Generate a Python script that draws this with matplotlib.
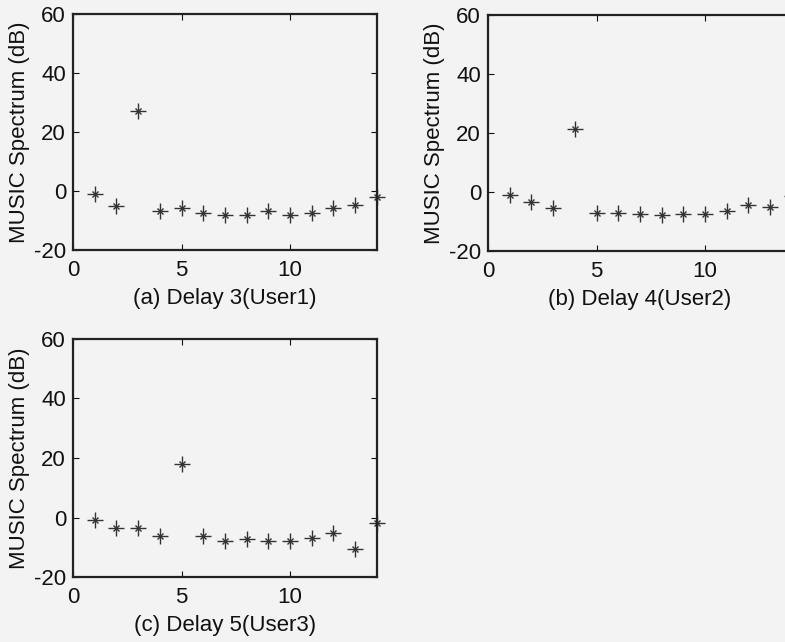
import numpy as np
import matplotlib
matplotlib.use("Agg")
import matplotlib.pyplot as plt

# delay index axis shared by all three panels
delay = np.arange(1, 15)

# MUSIC spectrum values (dB)
user1_db = [-1.0, -5.0, 27.0, -6.8, -5.9, -7.3, -8.0, -8.0, -6.8, -8.0, -7.3, -5.9, -4.8, -2.0]
user2_db = [-1.1, -3.4, -5.4, 21.2, -7.1, -7.1, -7.3, -7.7, -7.3, -7.3, -6.5, -4.5, -5.1, -1.5]
user3_db = [-0.8, -3.3, -3.3, -6.1, 18.0, -6.1, -7.8, -7.2, -7.8, -7.8, -6.9, -5.0, -10.6, -1.9]

titles = ["(a) Delay 3(User1)", "(b) Delay 4(User2)", "(c) Delay 5(User3)"]
xticks = [0, 5, 10]
yticks = [-20, 0, 20, 40, 60]

plt.rcParams['font.family'] = ['Liberation Sans', 'DejaVu Sans']
plt.rcParams['axes.unicode_minus'] = False

paper = '#f3f3f3'
fig = plt.figure(figsize=(7.85, 6.42), dpi=100, facecolor=paper)

# panel boxes in figure fractions (b is clipped by the right edge like the scan)
boxes = [
    [0.093, 0.6106, 0.387, 0.3676],
    [0.6217, 0.609, 0.387, 0.3676],
    [0.093, 0.1005, 0.387, 0.372],
]

for box, vals, title in zip(boxes, [user1_db, user2_db, user3_db], titles):
    ax = fig.add_axes(box)
    ax.set_facecolor(paper)
    ax.plot(delay, vals, linestyle='none', marker='+', markersize=12,
            markeredgewidth=1.0, color='#333333', clip_on=False)
    ax.plot(delay, vals, linestyle='none', marker='x', markersize=4.5,
            markeredgewidth=1.0, color='#333333', clip_on=False)
    ax.set_xlim(0, 14)
    ax.set_ylim(-20, 60)
    ax.set_xticks(xticks)
    ax.set_yticks(yticks)
    ax.tick_params(direction='in', top=True, right=True, length=4,
                   labelsize=16, colors='#111111', pad=5)
    ax.tick_params(axis='x', pad=7)
    for s in ax.spines.values():
        s.set_linewidth(1.6)
        s.set_color('#222222')
    ax.set_ylabel("MUSIC Spectrum (dB)", fontsize=16, labelpad=3, color='#111111')
    ax.set_xlabel(title, fontsize=16, labelpad=5, color='#111111')

fig.savefig("out.png", dpi=100, facecolor=paper)
